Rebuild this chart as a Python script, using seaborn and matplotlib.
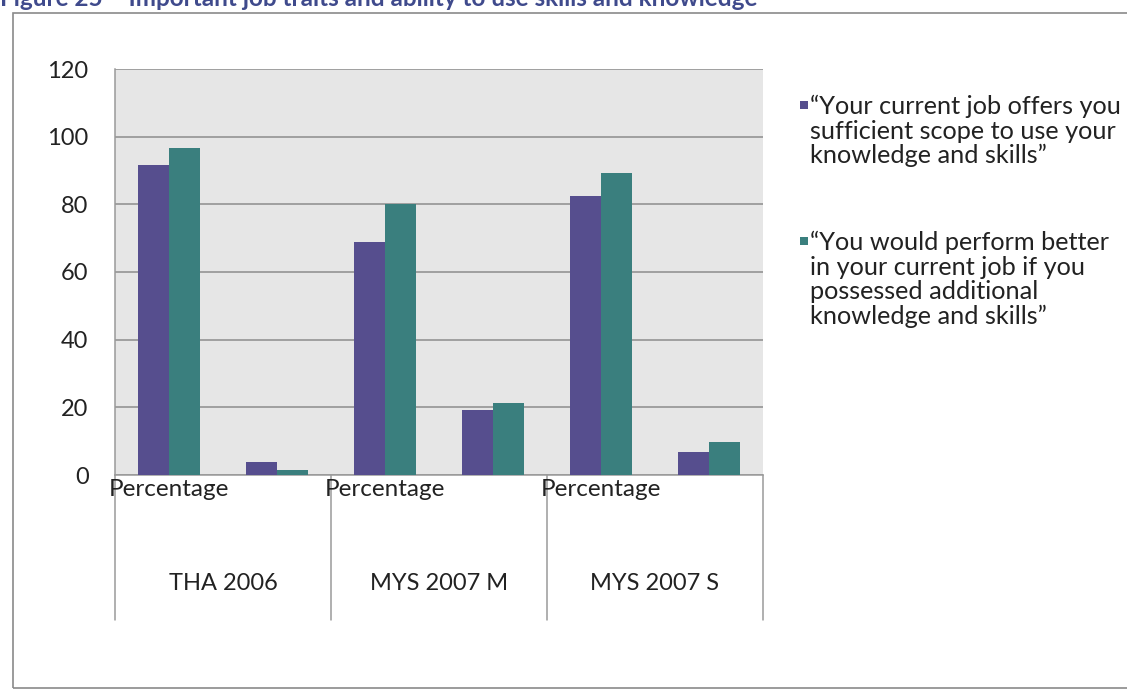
import matplotlib
matplotlib.use("Agg")
import matplotlib.pyplot as plt
import matplotlib.patches as mpatches
import seaborn as sns
import pandas as pd

# Survey groups and their sub-categories
groups = ["THA 2006", "MYS 2007 M", "MYS 2007 S"]
sub_labels = ["Percentage", ""]

series_names = [
    "\u201cYour current job offers you\nsufficient scope to use your\nknowledge and skills\u201d",
    "\u201cYou would perform better\nin your current job if you\npossessed additional\nknowledge and skills\u201d",
]

# Values per slot: (group, sub-category) in reading order
scope_values = [91.5, 3.8, 68.9, 19.2, 82.5, 6.8]
perform_values = [96.6, 1.5, 80.2, 21.4, 89.2, 9.7]

y_ticks = [0, 20, 40, 60, 80, 100, 120]

title_text = "Figure 25 \u2013 Important job traits and ability to use skills and knowledge"

PURPLE = "#564e8e"
TEAL = "#3a7f7e"
TEXT = "#222222"

slots = [f"{g}|{i}" for g in groups for i in range(len(sub_labels))]
df = pd.DataFrame({
    "slot": slots * 2,
    "value": scope_values + perform_values,
    "series": [series_names[0]] * len(slots) + [series_names[1]] * len(slots),
})

sns.set_theme(style="white")
plt.rcParams["font.family"] = ["Lato", "DejaVu Sans"]

W, H = 1127, 689
fig = plt.figure(figsize=(W / 100, H / 100), dpi=100)


def fx(px):
    return px / W


def fy(py):
    return 1 - py / H


# Outer chart frame
frame = mpatches.Rectangle((fx(13), fy(688)), fx(1300) - fx(13), fy(13) - fy(688),
                           transform=fig.transFigure, fill=False,
                           edgecolor="#8a8a8a", linewidth=1.2)
fig.patches.append(frame)
fig.text(fx(0), fy(6), title_text, fontsize=17.5, fontweight="bold",
         color="#3f4a8c", ha="left", va="baseline")

left, right, top, bottom = 115, 763, 69, 475
ax = fig.add_axes([fx(left), fy(bottom), fx(right) - fx(left), fy(top) - fy(bottom)])
ax.set_facecolor("#e6e6e6")

palette = [PURPLE, TEAL]
sns.barplot(data=df, x="slot", y="value", hue="series", order=slots,
            hue_order=series_names, palette=palette, saturation=1,
            width=0.58, gap=0, linewidth=0, ax=ax, zorder=3, legend=False)

ax.set_xlim(-0.5, len(slots) - 0.5)
ax.set_ylim(0, 120)
ax.set_yticks(y_ticks)
ax.set_yticklabels([str(t) for t in y_ticks], fontsize=17, color=TEXT)
ax.tick_params(axis="y", length=0, pad=19)
ax.set_xticks([])
ax.set_xlabel("")
ax.set_ylabel("")
ax.grid(axis="y", color="#8c8c8c", linewidth=1.1, zorder=1)
ax.set_axisbelow(True)
for side in ["top", "right"]:
    ax.spines[side].set_visible(False)
for side in ["left", "bottom"]:
    ax.spines[side].set_color("#9a9a9a")
    ax.spines[side].set_linewidth(1.1)

# Multi-level category axis
axis_h = bottom - top
xt = ax.get_xaxis_transform()
n_sub = len(sub_labels)
for i, slot in enumerate(slots):
    ax.text(i, (bottom - 490) / axis_h, sub_labels[i % n_sub], transform=xt,
            ha="center", va="center", fontsize=17.5, color=TEXT)
for gi, g in enumerate(groups):
    center = gi * n_sub + (n_sub - 1) / 2
    ax.text(center, (bottom - 584) / axis_h, g, transform=xt,
            ha="center", va="center", fontsize=17, color=TEXT)
for b in range(len(groups) + 1):
    xb = b * n_sub - 0.5
    ax.plot([xb, xb], [0, (bottom - 620) / axis_h], transform=xt,
            color="#9a9a9a", linewidth=1.1, clip_on=False)

# Legend: square key beside the first line of each entry
entry_tops = [95, 231]
for name, color, ytop in zip(series_names, palette, entry_tops):
    fig.patches.append(mpatches.Rectangle((fx(800), fy(ytop + 13.5)), fx(8), 8 / H,
                                          transform=fig.transFigure,
                                          facecolor=color, edgecolor="none"))
    fig.text(fx(810), fy(ytop), name, fontsize=18.2, color=TEXT,
             ha="left", va="top", linespacing=1.07)

fig.savefig("out.png", dpi=100)
